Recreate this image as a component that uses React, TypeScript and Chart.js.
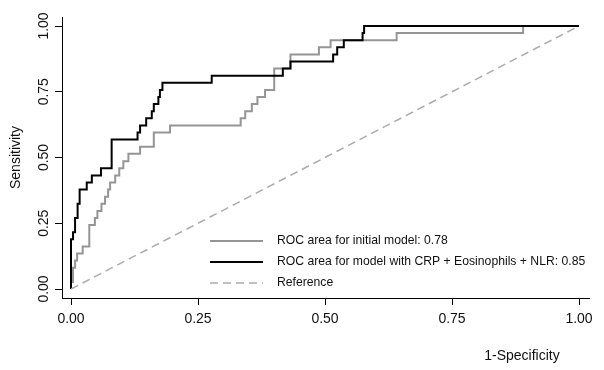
import React, { useEffect, useRef } from "react";
import { Chart, registerables } from "chart.js";

Chart.register(...registerables);

// ROC vertices (1-specificity, sensitivity)
const initialFpr = [0, 0, 0.004, 0.008, 0.012, 0.023, 0.036, 0.047, 0.052, 0.060, 0.067, 0.073, 0.077, 0.087, 0.095, 0.103, 0.113, 0.136, 0.163, 0.195, 0.334, 0.343, 0.356, 0.367, 0.382, 0.400, 0.432, 0.488, 0.511, 0.641, 0.890, 1.0];
const initialTpr = [0, 0.027, 0.081, 0.108, 0.135, 0.162, 0.243, 0.270, 0.297, 0.324, 0.351, 0.378, 0.405, 0.432, 0.459, 0.486, 0.514, 0.541, 0.595, 0.622, 0.649, 0.676, 0.703, 0.730, 0.757, 0.838, 0.892, 0.919, 0.946, 0.973, 1.0, 1.0];

const modelFpr = [0, 0, 0.004, 0.008, 0.013, 0.017, 0.031, 0.041, 0.059, 0.080, 0.131, 0.136, 0.148, 0.159, 0.163, 0.172, 0.175, 0.180, 0.277, 0.417, 0.432, 0.516, 0.524, 0.537, 0.574, 0.577, 1.0];
const modelTpr = [0, 0.189, 0.216, 0.270, 0.324, 0.378, 0.405, 0.432, 0.459, 0.568, 0.595, 0.622, 0.649, 0.676, 0.703, 0.730, 0.757, 0.784, 0.811, 0.838, 0.865, 0.892, 0.919, 0.946, 0.973, 1.0, 1.0];

const referenceX = [0, 1];
const referenceY = [0, 1];

const xTicks = [0, 0.25, 0.5, 0.75, 1];
const yTicks = [0, 0.25, 0.5, 0.75, 1];

const seriesLabels = [
  "ROC area for initial model: 0.78",
  "ROC area for model with CRP + Eosinophils + NLR: 0.85",
  "Reference",
];
const xTitle = "1-Specificity";
const yTitle = "Sensitivity";

const FONT = "'Liberation Sans', Arial, Helvetica, sans-serif";
const TEXT = "#111111";
const GRAY = "#959595";
const REF = "#ababab";

const toPoints = (xs: number[], ys: number[]) => xs.map((x, i) => ({ x, y: ys[i] }));

const decorPlugin = {
  id: "decor",
  afterDraw(chart: any) {
    const ctx = chart.ctx as CanvasRenderingContext2D;
    const ys = chart.scales.y;
    ctx.save();
    ctx.fillStyle = TEXT;
    ctx.font = `14px ${FONT}`;
    ctx.textAlign = "center";
    ctx.textBaseline = "middle";
    yTicks.forEach((v) => {
      const py = ys.getPixelForValue(v);
      ctx.save();
      ctx.translate(44, py);
      ctx.rotate(-Math.PI / 2);
      ctx.fillText(v.toFixed(2), 0, 0);
      ctx.restore();
    });
    ctx.fillText(xTitle, 522, 356);

    // legend inside plot
    ctx.font = `12.2px ${FONT}`;
    ctx.textAlign = "left";
    chart.data.datasets.forEach((ds: any, i: number) => {
      const y = 241 + i * 21;
      ctx.save();
      ctx.strokeStyle = ds.borderColor;
      ctx.lineWidth = ds.borderWidth;
      ctx.setLineDash(ds.borderDash || []);
      ctx.beginPath();
      ctx.moveTo(210, y);
      ctx.lineTo(263, y);
      ctx.stroke();
      ctx.restore();
      ctx.fillText(ds.label, 277, y);
    });
    ctx.restore();
  },
};

export default function App() {
  const ref = useRef<HTMLCanvasElement | null>(null);
  useEffect(() => {
    if (!ref.current) return;
    const chart = new Chart(ref.current, {
      type: "line",
      data: {
        datasets: [
          {
            label: seriesLabels[0],
            data: toPoints(initialFpr, initialTpr),
            borderColor: GRAY,
            borderWidth: 2,
            stepped: "before",
            pointRadius: 0,
            fill: false,
            order: 2,
          },
          {
            label: seriesLabels[1],
            data: toPoints(modelFpr, modelTpr),
            borderColor: "#000000",
            borderWidth: 2,
            stepped: "before",
            pointRadius: 0,
            fill: false,
            order: 1,
          },
          {
            label: seriesLabels[2],
            data: toPoints(referenceX, referenceY),
            borderColor: REF,
            borderWidth: 1.5,
            borderDash: [8, 5],
            pointRadius: 0,
            fill: false,
            order: 0,
          },
        ],
      },
      options: {
        animation: false,
        responsive: false,
        devicePixelRatio: 1,
        layout: { padding: { left: 0, top: 17, right: 15, bottom: 0 } },
        plugins: { legend: { display: false }, tooltip: { enabled: false } },
        scales: {
          x: {
            type: "linear",
            min: -9 / 508,
            max: 1 + 10 / 508,
            afterBuildTicks: (s: any) => {
              s.ticks = xTicks.map((v) => ({ value: v }));
            },
            afterFit: (s: any) => {
              s.height = 72;
            },
            ticks: {
              callback: (v: any) => Number(v).toFixed(2),
              font: { size: 14, family: FONT },
              color: TEXT,
              padding: 6,
              maxRotation: 0,
              autoSkip: false,
            },
            grid: { display: true, drawOnChartArea: false, drawTicks: true, tickLength: 7, color: "#000", lineWidth: 1 },
            border: { display: true, color: "#000", width: 1 },
          },
          y: {
            type: "linear",
            min: -9 / 263,
            max: 1 + 9 / 263,
            afterBuildTicks: (s: any) => {
              s.ticks = yTicks.map((v) => ({ value: v }));
            },
            afterFit: (s: any) => {
              s.width = 62;
            },
            ticks: { display: false },
            title: {
              display: true,
              text: yTitle,
              font: { size: 14, family: FONT },
              color: TEXT,
              padding: { top: 8, bottom: 0 },
            },
            grid: { display: true, drawOnChartArea: false, drawTicks: true, tickLength: 7, color: "#000", lineWidth: 1 },
            border: { display: true, color: "#000", width: 1 },
          },
        },
      },
      plugins: [decorPlugin],
    } as any);
    return () => chart.destroy();
  }, []);
  return (
    <div style={{ position: "fixed", left: 0, top: 0, width: 604, height: 370, background: "#fff" }}>
      <canvas ref={ref} width={604} height={370} style={{ display: "block" }} />
    </div>
  );
}
